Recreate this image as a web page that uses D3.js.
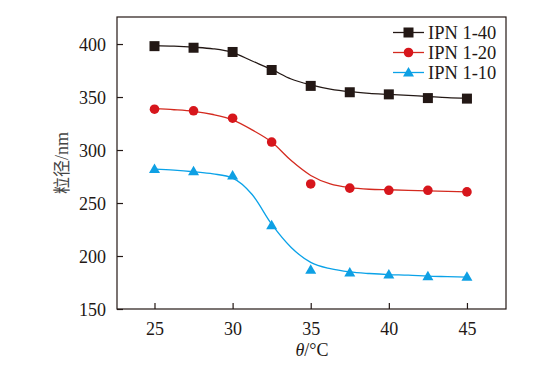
<!DOCTYPE html>
<html>
<head>
<meta charset="utf-8">
<script src="https://cdn.jsdelivr.net/npm/d3@7"></script>
<style>
  body { margin: 0; background: #fff; }
</style>
</head>
<body>
<div id="chart"></div>
<script>
// Measured points
const temps = [25, 27.5, 30, 32.5, 35, 37.5, 40, 42.5, 45];
const ipn40 = [398, 396.5, 392.5, 375.5, 360.5, 354.5, 352.5, 349, 348.5];
const ipn20 = [338.5, 337, 330, 307.5, 268, 264, 262, 262, 260.5];
const ipn10 = [282, 280, 276, 229, 187, 184.5, 182.5, 181, 180.5];

// Fitted curves
const fitTemps = [25, 26.25, 27.5, 28.75, 30, 31.25, 32.5, 33.75, 35, 36.25, 37.5, 38.75, 40, 41.25, 42.5, 43.75, 45];
const fit40 = [398.5, 398, 397, 395.5, 392, 384, 376, 367, 361.5, 357.5, 355, 353.5, 352.5, 351.5, 350.5, 349.5, 349];
const fit20 = [339, 338, 336.5, 333.5, 328.5, 319, 307.5, 290, 276, 268, 264.5, 263, 262.5, 262, 261.5, 261, 260.5];
const fit10 = [282, 281, 279.5, 277.5, 273.5, 258, 230, 208, 194, 188, 185, 183.5, 182.5, 182, 181, 180.5, 180];

const xTicks = [25, 30, 35, 40, 45];
const yTicks = [150, 200, 250, 300, 350, 400];

const series = [
  { name: 'IPN 1-40', pts: ipn40, fit: fit40, color: '#231815', line: '#231815', shape: 'square' },
  { name: 'IPN 1-20', pts: ipn20, fit: fit20, color: '#d7161c', line: '#d42a1f', shape: 'circle' },
  { name: 'IPN 1-10', pts: ipn10, fit: fit10, color: '#0ea0e4', line: '#0aa2e8', shape: 'triangle' }
];

const SERIF = '"Times New Roman", "Liberation Serif", "DejaVu Serif", serif';
const width = 536, height = 365;
const plot = { left: 117, right: 506, top: 17, bottom: 309 };

const svg = d3.select('#chart').append('svg')
  .attr('width', width)
  .attr('height', height)
  .style('font-family', SERIF);

const x = d3.scaleLinear().domain([22.6, 47.5]).range([plot.left, plot.right]);
const y = d3.scaleLinear().domain([150, 425.5]).range([plot.bottom, plot.top]);

// frame
svg.append('rect')
  .attr('x', plot.left).attr('y', plot.top)
  .attr('width', plot.right - plot.left).attr('height', plot.bottom - plot.top)
  .attr('fill', 'none').attr('stroke', '#231815').attr('stroke-width', 1.2);

// axes with inward ticks
const xAxis = svg.append('g')
  .attr('transform', `translate(0,${plot.bottom})`)
  .call(d3.axisBottom(x).tickValues(xTicks).tickSize(-6).tickPadding(13));
const yAxis = svg.append('g')
  .attr('transform', `translate(${plot.left},0)`)
  .call(d3.axisLeft(y).tickValues(yTicks).tickSize(-6).tickPadding(11));

[xAxis, yAxis].forEach(a => {
  a.attr('font-family', null).attr('font-size', null);
  a.select('.domain').remove();
  a.selectAll('line').attr('stroke', '#231815').attr('stroke-width', 1.2);
  a.selectAll('text')
    .attr('fill', '#231815')
    .style('font-family', SERIF)
    .style('font-size', '18px');
});
yAxis.selectAll('text').attr('dy', '0.34em');

// axis titles
const xl = svg.append('text')
  .attr('x', 312).attr('y', 356)
  .attr('text-anchor', 'middle')
  .attr('fill', '#231815')
  .style('font-size', '18px');
xl.append('tspan').style('font-style', 'italic').text('θ');
xl.append('tspan').text('/°C');

const yl = svg.append('text')
  .attr('transform', 'translate(68,163) rotate(-90)')
  .attr('text-anchor', 'middle')
  .attr('fill', '#444')
  .style('font-size', '18px');
yl.append('tspan').style('font-family', '"Noto Sans CJK SC"').style('font-size', '17px').text('粒径');
yl.append('tspan').text('/nm');

const line = d3.line()
  .x((d, i) => x(fitTemps[i]))
  .y(d => y(d))
  .curve(d3.curveMonotoneX);

function marker(g, shape, cx, cy, color) {
  if (shape === 'square') {
    g.append('rect').attr('x', cx - 5).attr('y', cy - 5)
      .attr('width', 10).attr('height', 10).attr('fill', color);
  } else if (shape === 'circle') {
    g.append('circle').attr('cx', cx).attr('cy', cy).attr('r', 4.8).attr('fill', color);
  } else {
    g.append('path')
      .attr('d', `M${cx},${cy - 5.5}L${cx + 5.5},${cy + 4}L${cx - 5.5},${cy + 4}Z`)
      .attr('fill', color);
  }
}

series.forEach(s => {
  svg.append('path')
    .datum(s.fit)
    .attr('d', line)
    .attr('fill', 'none')
    .attr('stroke', s.line)
    .attr('stroke-width', 1.3);
  const g = svg.append('g');
  s.pts.forEach((v, i) => marker(g, s.shape, x(temps[i]), y(v), s.color));
});

// legend
const legend = svg.append('g');
series.forEach((s, i) => {
  const ly = 32.5 + i * 20;
  legend.append('line')
    .attr('x1', 393).attr('x2', 424)
    .attr('y1', ly).attr('y2', ly)
    .attr('stroke', s.line).attr('stroke-width', 1.3);
  marker(legend, s.shape, 408.5, ly, s.color);
  legend.append('text')
    .attr('x', 428).attr('y', ly)
    .attr('dy', '0.35em')
    .attr('fill', '#231815')
    .style('font-size', '18.5px')
    .text(s.name);
});
</script>
</body>
</html>
